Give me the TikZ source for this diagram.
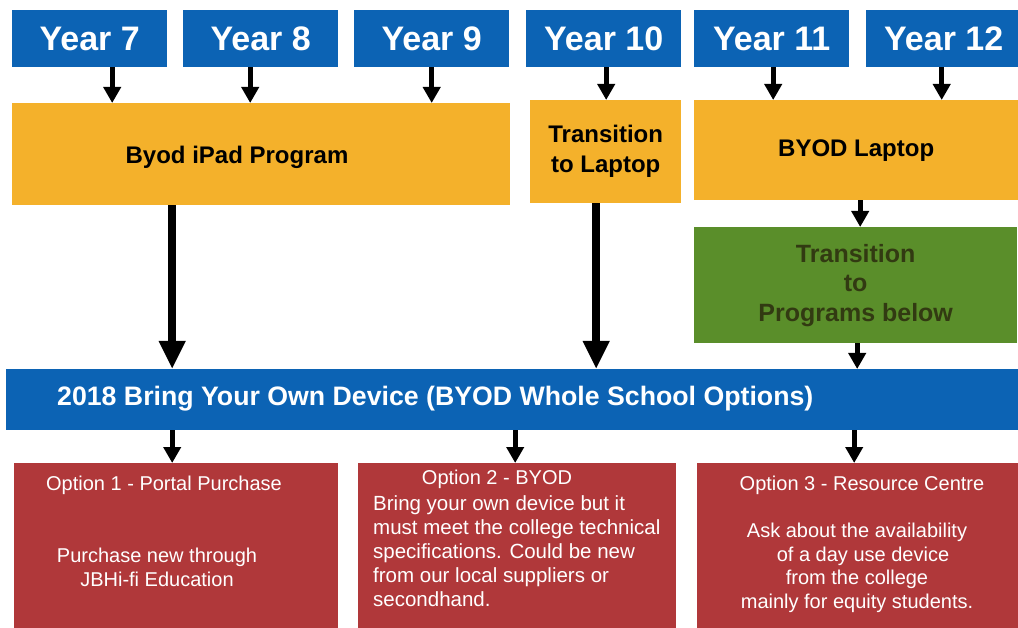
\documentclass[tikz,border=0pt]{standalone}
\usepackage{fontspec}
\setmainfont{Liberation Sans}
\usetikzlibrary{arrows.meta}

\definecolor{byblue}{RGB}{12,99,180}
\definecolor{byorange}{RGB}{244,177,43}
\definecolor{bygreen}{RGB}{90,142,42}
\definecolor{byred}{RGB}{176,56,58}
\definecolor{bydark}{RGB}{50,58,18}

\tikzset{
  box/.style={inner sep=0pt, anchor=north west},
  yearbox/.style={box, fill=byblue, text=white, minimum width=155pt, minimum height=57pt,
    font=\bfseries\fontsize{34}{36}\selectfont},
  progbox/.style={box, fill=byorange, font=\bfseries\fontsize{24}{30}\selectfont, align=center},
  optbox/.style={box, fill=byred, minimum height=165pt},
  opttext/.style={text=white, font=\fontsize{20}{24}\selectfont},
  smallarr/.style={-{Triangle[width=17pt,length=16pt]}, line width=5pt},
  bigarr/.style={-{Triangle[width=25pt,length=28pt]}, line width=8pt}
}

\begin{document}
\begin{tikzpicture}[x=1pt, y=-1pt]
    \useasboundingbox (0,0) rectangle (1018,628);
    % Year boxes
    \foreach \n/\x in {7/12, 8/183, 9/354, 10/526, 11/694, 12/866}
        \node[yearbox] (y\n) at (\x,10) {Year \n};
    % Programs
    \node[progbox, minimum width=498pt, minimum height=102pt] (ipad) at (12,103) {};
    \node[font=\bfseries\fontsize{24}{30}\selectfont] (ipadtxt) at (237,157) {Byod iPad Program};
    \node[progbox, minimum width=151pt, minimum height=103pt] (trans) at (530,100) {Transition\\to Laptop};
    \node[progbox, minimum width=324pt, minimum height=100pt] (laptop) at (694,100) {BYOD Laptop};
    \node[box, fill=bygreen, text=bydark, minimum width=323pt, minimum height=116pt, align=center,
        font=\bfseries\fontsize{25}{29.5}\selectfont] (green) at (694,227) {Transition\\to\\Programs below};
    % Whole school bar
    \node[box, fill=byblue, minimum width=1012pt, minimum height=61pt] (bar) at (6,369) {};
    \node[anchor=west, inner sep=0pt, text=white, font=\bfseries\fontsize{26.7}{30}\selectfont] (bartxt) at (57,399)
        {2018 Bring Your Own Device (BYOD Whole School Options)};
    % Options
    \node[optbox, minimum width=324pt] (opt1) at (14,463) {};
    \node[optbox, minimum width=318pt] (opt2) at (358,463) {};
    \node[optbox, minimum width=321pt] (opt3) at (697,463) {};
    \node[opttext] (opt1head) at (164,485) {Option 1 - Portal Purchase};
    \node[opttext, align=center] (opt1body) at (157,567) {Purchase new through\\JBHi-fi Education};
    \node[opttext] (opt2head) at (497,479) {Option 2 - BYOD};
    \node[opttext, align=left, anchor=west, inner sep=0pt, font=\fontsize{20.5}{24}\selectfont] (opt2body) at (373,551)
        {Bring your own device but it\\must meet the college technical\\specifications. Could be new\\from our local suppliers or\\secondhand.};
    \node[opttext] (opt3head) at (862,485) {Option 3 - Resource Centre};
    \node[opttext, align=center, font=\fontsize{20}{23.5}\selectfont] (opt3body) at (857,568)
        {Ask about the availability\\\hspace*{12pt}of a day use device\\from the college\\mainly for equity students.};
    % Year arrows
    \foreach \n/\s in {7/22.5, 8/-10.5, 9/0}
        \draw[smallarr] ([xshift=\s pt]y\n.south) -- ([xshift=\s pt]y\n.south |- ipad.north);
    \draw[smallarr] ([xshift=2.5pt]y10.south) -- ([xshift=2.5pt]y10.south |- trans.north);
    \foreach \n/\s in {11/1.5, 12/-2}
        \draw[smallarr] ([xshift=\s pt]y\n.south) -- ([xshift=\s pt]y\n.south |- laptop.north);
    % Down to the bar
    \draw[bigarr] ([xshift=-89pt]ipad.south) -- ([xshift=-89pt]ipad.south |- bar.north);
    \draw[bigarr] ([xshift=-9.5pt]trans.south) -- ([xshift=-9.5pt]trans.south |- bar.north);
    \draw[smallarr] ([xshift=4pt]laptop.south) -- ([xshift=4pt]laptop.south |- green.north);
    \draw[smallarr] ([xshift=1.5pt]green.south) -- ([xshift=1.5pt]green.south |- bar.north);
    % Bar to options
    \foreach \n/\s in {1/-4, 2/-2, 3/-3.5}
        \draw[smallarr] ([xshift=\s pt]opt\n.north |- bar.south) -- ([xshift=\s pt]opt\n.north);
\end{tikzpicture}
\end{document}
